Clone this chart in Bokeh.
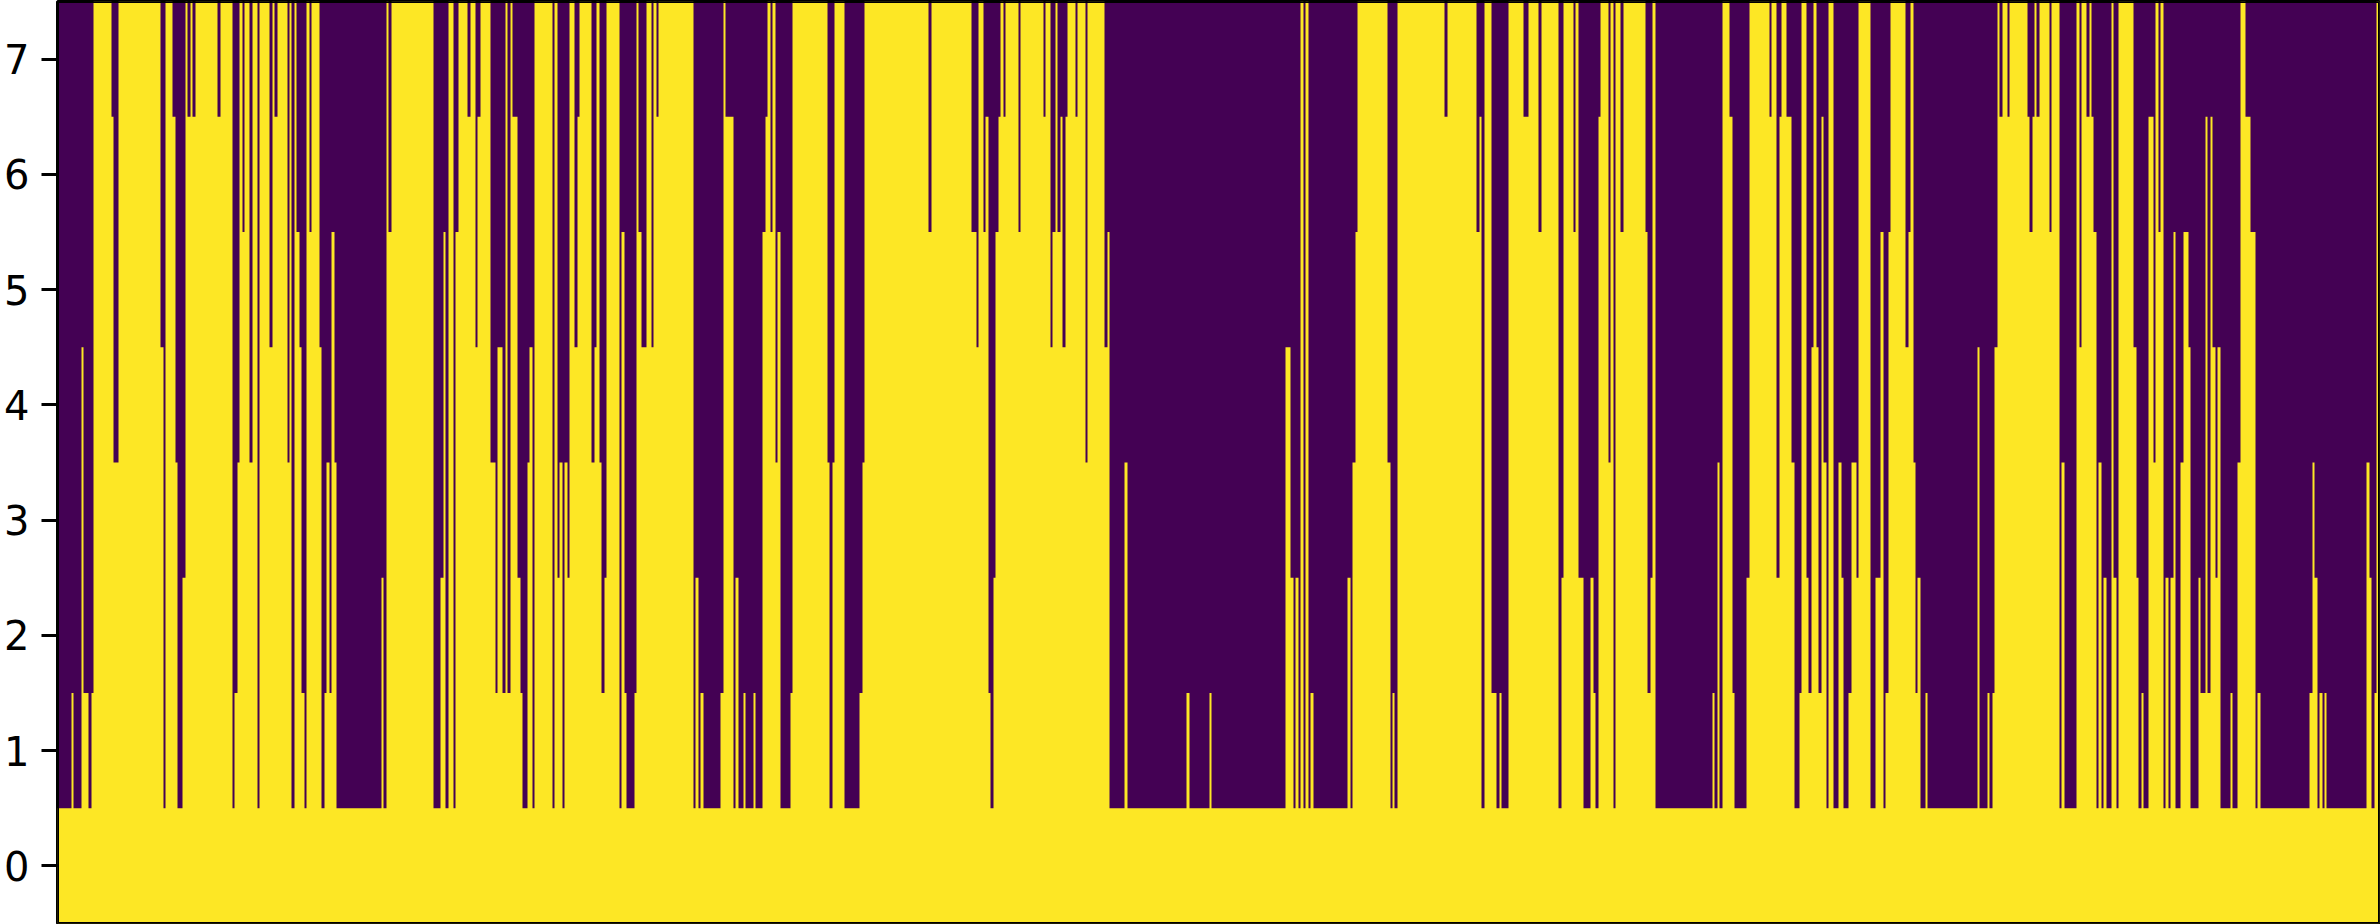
from bokeh.plotting import figure
from bokeh.models import Range1d, FixedTicker, ColumnDataSource
from bokeh.embed import file_html
from bokeh.resources import INLINE

# Binary matrix, 8 rows. Each stretch of equal columns is a run: where it ends,
# and how many rows, counted from the top, are off.
ends_1 = [213,219,243,249,264,273,279,333,339,354,
          480,489,495,516,525,531,546,555,561,570,
          576,585,651,660,696,702,711,717,726,732,
          747,756,771,777,807,816,822,831,861,867,
          873,882,888,897,903,912,918,927,933,957,
          963,972,978,987,993,1002,1008,1143,1149,1158,
          1164,1173,1200]
off_1 = [7,6,7,3,6,7,6,0,1,4,
         0,3,7,0,1,4,7,5,0,1,
         0,1,0,1,0,7,6,4,0,2,
         0,4,0,7,0,3,0,1,0,4,
         0,7,0,2,3,6,7,0,2,0,
         3,7,6,4,6,2,4,7,5,7,
         0,2,0]

ends_2 = [99,120,129,135,144,159,165,174,201,210,
          225,231,240,270,285,291,306,315,321,330,
          336,351,360,366,381,387,396,402,456,462,
          471,477,486,492,501,507,522,531,537,573,
          582,588,597,603,612,618,657,663,672,678,
          702,708,714,723,738,753,759,768,774,879,
          885,894,900,909,960,969,975,999,1005,1014,
          1029,1035,1059,1065,1086,1095,1101,1110,1116,1125,
          1131,1140,1170,1176,1200]
off_2 = [0,7,5,2,7,0,7,2,0,1,
         0,3,1,0,4,6,3,6,0,6,
         0,1,5,6,7,4,3,7,0,7,
         0,5,4,7,4,5,0,3,1,0,
         4,3,0,4,6,5,0,7,2,6,
         7,6,0,2,3,0,3,0,1,0,
         7,5,7,6,7,6,0,1,7,5,
         7,6,7,6,7,2,1,0,2,0,
         4,2,7,6,0]

ends_3 = [81,87,96,102,132,177,186,192,384,393,
          513,528,534,549,555,564,570,579,585,594,
          600,609,615,654,660,729,735,750,756,765,
          771,780,786,795,801,825,831,855,861,912,
          921,927,972,981,1158,1167,1200]
off_3 = [0,4,7,4,0,7,6,4,0,2,
         0,2,3,0,2,1,6,7,5,2,
         1,0,1,0,2,0,1,0,3,2,
         0,2,1,3,1,0,1,0,4,0,
         3,2,7,4,7,6,7]

ends_4 = [27,33,255,270,279,285,294,300,309,315,
          324,330,339,441,450,456,465,471,561,570,
          576,582,591,732,741,828,837,843,852,873,
          888,897,903,924,969,984,1014,1023,1074,1083,
          1089,1119,1125,1134,1149,1170,1179,1185,1194,1200]
off_4 = [7,6,7,3,5,7,5,7,0,7,
         0,7,6,7,5,7,4,2,0,4,
         7,6,7,0,1,0,2,1,7,0,
         6,7,6,7,0,1,0,2,0,7,
         5,0,2,0,5,7,5,6,7,1]

ends_5 = [24,30,39,45,60,69,135,141,150,156,
          165,336,342,351,357,366,387,396,402,438,
          447,507,513,528,537,543,558,573,582,597,
          603,618,624,633,639,648,654,663,669,678,
          684,699,714,723,729,744,753,768,774,810,
          825,840,849,855,864,870,915,924,930,939,
          945,951,960,975,981,1131,1137,1161,1167,1176,
          1182,1191,1197,1200]
off_5 = [0,4,0,7,0,2,0,2,6,5,
         0,7,6,7,4,7,0,1,6,7,
         5,0,1,0,5,1,0,1,4,7,
         6,0,5,6,3,0,3,6,1,4,
         7,0,7,4,5,7,6,4,5,0,
         7,5,2,7,6,2,0,3,2,0,
         4,6,5,7,6,7,3,7,6,7,
         6,3,0,1]

ends_6 = [6,21,27,81,87,96,102,108,117,147,
          153,177,183,192,228,237,243,258,267,273,
          279,288,294,303,309,318,333,339,348,354,
          399,408,414,423,429,444,459,465,474,480,
          489,495,504,510,519,525,540,549,564,570,
          594,600,615,621,630,636,645,651,660,690,
          696,711,720,735,750,765,771,780,927,936,
          942,951,957,966,972,978,1098,1107,1113,1122,
          1128,1137]
off_6 = [1,0,1,0,1,2,1,0,1,0,
         2,0,7,4,7,0,3,0,1,0,
         1,2,7,4,7,5,7,0,5,7,
         0,3,5,7,6,7,1,4,0,2,
         0,7,5,7,5,2,7,4,2,3,
         7,5,6,1,6,1,3,5,3,7,
         6,7,4,0,1,2,7,6,7,6,
         4,5,7,6,7,6,7,4,5,7,
         6,0]

row_ticks = [0, 1, 2, 3, 4, 5, 6, 7]

ON = "#fde725"
OFF = "#440154"
START = 171
CHUNK = 1200

x_edges, top = [START], []
chunks = [(ends_1, off_1), (ends_2, off_2), (ends_3, off_3),
          (ends_4, off_4), (ends_5, off_5), (ends_6, off_6)]
for k, (ends, off) in enumerate(chunks):
    for e, t in zip(ends, off):
        x_edges.append(e + k * CHUNK)
        top.append(7.5 - t)
top.append(top[-1])
bottom = [-0.5] * len(x_edges)

y_low, y_high = row_ticks[0] - 0.5, row_ticks[-1] + 0.5

p = figure(width=2380, height=924, output_backend="svg", toolbar_location=None,
           x_range=Range1d(START, x_edges[-1]), y_range=Range1d(y_low, y_high),
           min_border_left=57, min_border_right=1, min_border_top=1, min_border_bottom=1,
           background_fill_color=OFF, border_fill_color="white",
           outline_line_color="black", outline_line_width=3)
p.grid.visible = False
p.xaxis.visible = False
ax = p.yaxis[0]
ax.ticker = FixedTicker(ticks=row_ticks)
ax.axis_line_color = None
ax.major_tick_line_color = "black"
ax.major_tick_line_width = 3
ax.major_tick_in = 0
ax.major_tick_out = 16
ax.minor_tick_line_color = None
ax.major_label_text_font = "DejaVu Sans"
ax.major_label_text_font_size = "40px"
ax.major_label_text_color = "black"
ax.major_label_standoff = 12

src = ColumnDataSource(dict(x=x_edges, y1=bottom, y2=top))
p.varea_step(x="x", y1="y1", y2="y2", step_mode="after", source=src,
             fill_color=ON)
# Frame repainted above the image, so its inner half is not hidden by the marks.
p.quad(left=[x_edges[0]], right=[x_edges[-1]], bottom=[y_low], top=[y_high],
       fill_color=None, line_color="black", line_width=3)

open("out.html", "w").write(file_html(p, INLINE))
